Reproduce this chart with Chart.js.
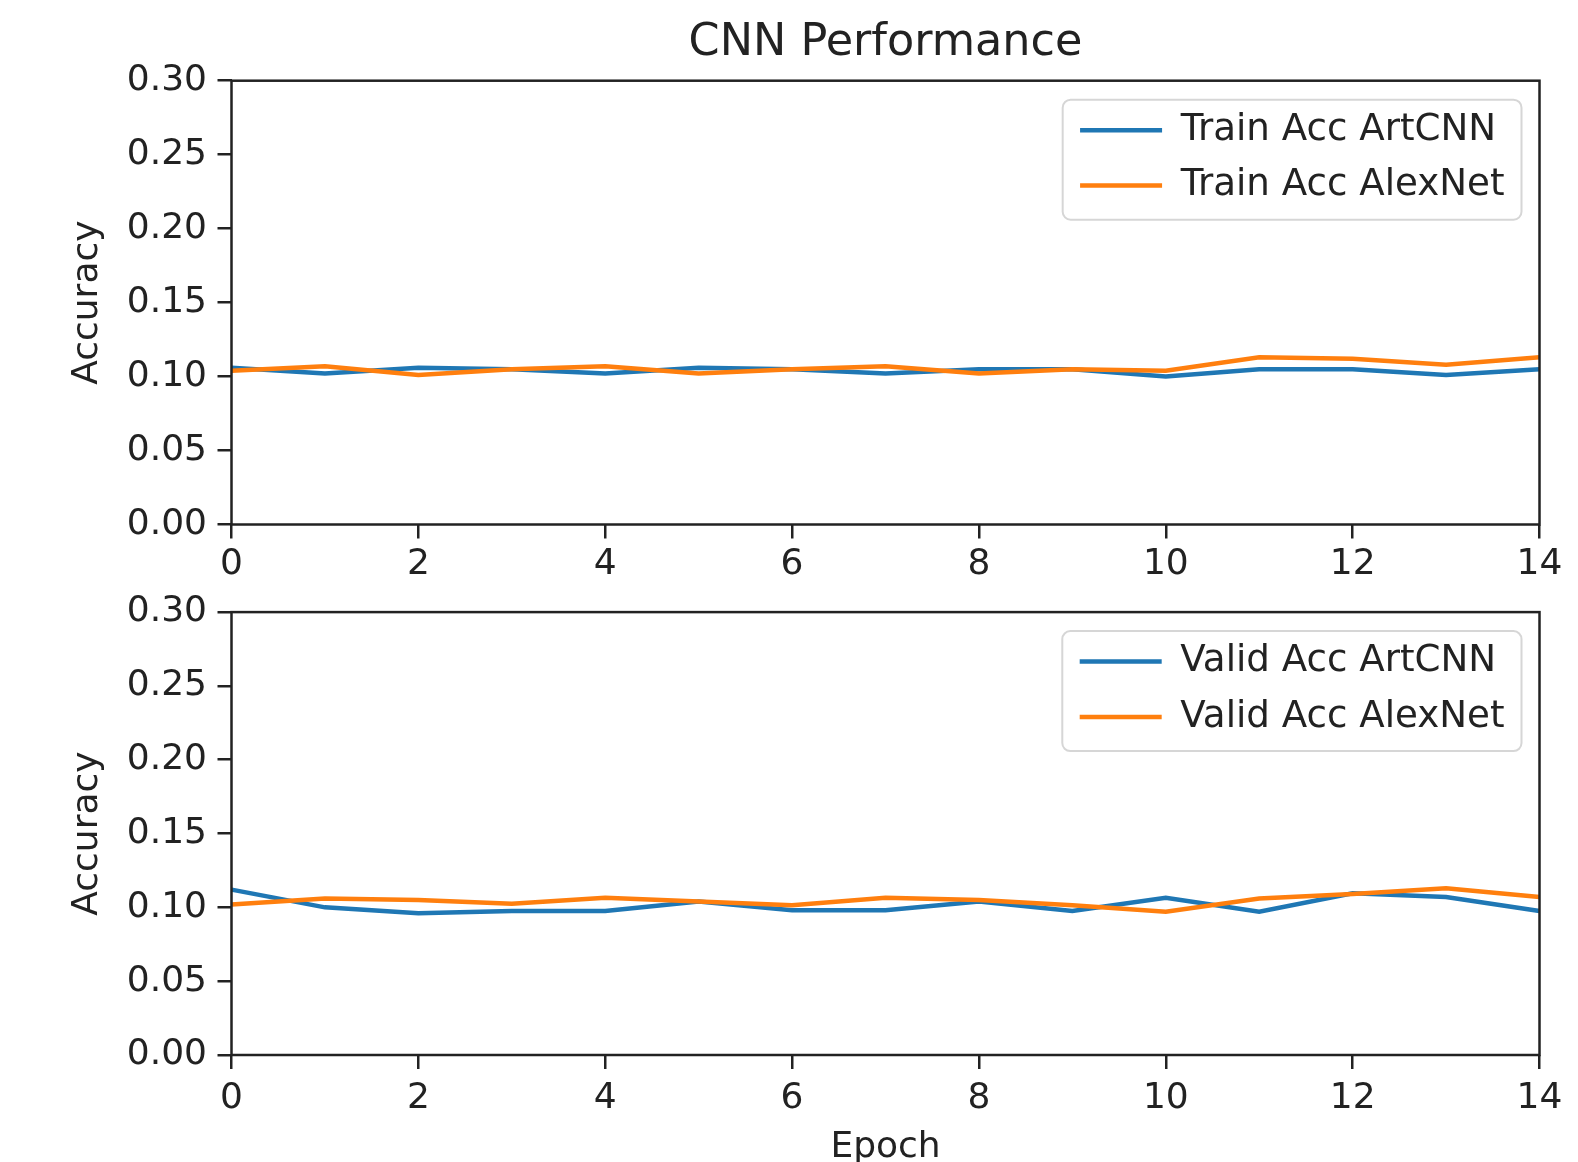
<!DOCTYPE html>
<html>
<head>
<meta charset="utf-8">
<title>CNN Performance</title>
<script src="https://cdn.jsdelivr.net/npm/chart.js@4.4.1/dist/chart.umd.min.js"></script>
<style>
    body { margin: 0; background: #fff; }
    #wrap { position: relative; width: 1578px; height: 1162px; }
    canvas { position: absolute; left: 0; }
    #trainChart { top: 0; }
    #validChart { top: 580px; }
</style>
</head>
<body>
<div id="wrap">
    <canvas id="trainChart" width="1578" height="580"></canvas>
    <canvas id="validChart" width="1578" height="582"></canvas>
</div>
<script>
const epochs = [0, 1, 2, 3, 4, 5, 6, 7, 8, 9, 10, 11, 12, 13, 14];
const xTickValues = [0, 2, 4, 6, 8, 10, 12, 14];
const yTickValues = [0, 0.05, 0.10, 0.15, 0.20, 0.25, 0.30];

const trainArtCNN = [0.106, 0.102, 0.106, 0.105, 0.102, 0.106, 0.105, 0.102, 0.105, 0.105, 0.100, 0.105, 0.105, 0.101, 0.105];
const trainAlexNet = [0.104, 0.107, 0.101, 0.105, 0.107, 0.102, 0.105, 0.107, 0.102, 0.105, 0.104, 0.113, 0.112, 0.108, 0.113];
const validArtCNN = [0.112, 0.100, 0.096, 0.0975, 0.0975, 0.104, 0.098, 0.098, 0.104, 0.0975, 0.1065, 0.097, 0.1095, 0.107, 0.0975];
const validAlexNet = [0.102, 0.106, 0.105, 0.1025, 0.1065, 0.104, 0.1015, 0.1065, 0.105, 0.1015, 0.097, 0.106, 0.109, 0.113, 0.107];

const BLUE = '#1f77b4';
const ORANGE = '#ff7f0e';
const INK = '#222222';

Chart.defaults.font.family = "'DejaVu Sans', sans-serif";
Chart.defaults.color = INK;

// box round the plot + framed legend like matplotlib
const mplFrame = {
    id: 'mplFrame',
    afterLayout(chart) {
        const lg = chart.legend;
        const area = chart.chartArea;
        const lab = lg.options.labels;
        const ctx = chart.ctx;
        ctx.save();
        ctx.font = Chart.helpers.toFont(lab.font).string;
        const maxW = Math.max(...lg.legendItems.map(it => ctx.measureText(it.text).width));
        ctx.restore();
        const half = lab.font.size / 2;
        const boxRight = area.right - 18;
        const boxTop = area.top + 19;
        const textX = boxRight - 17 - maxW;
        lg.left = textX - half - lab.boxWidth - lab.padding;
        lg.right = lg.left + lg.width;
        lg.top = boxTop + 30.5 - half - lab.padding;
        lg.bottom = lg.top + 300;
        chart.$legendBox = { x: textX - 118, y: boxTop, w: boxRight - (textX - 118), h: 120 };
    },
    beforeDraw(chart) {
        const b = chart.$legendBox;
        if (!b) return;
        const ctx = chart.ctx;
        ctx.save();
        ctx.beginPath();
        ctx.roundRect(b.x, b.y, b.w, b.h, 8);
        ctx.fillStyle = 'rgba(255,255,255,0.8)';
        ctx.fill();
        ctx.lineWidth = 2;
        ctx.strokeStyle = '#d6d6d6';
        ctx.stroke();
        ctx.restore();
    },
    afterDraw(chart) {
        const a = chart.chartArea;
        const ctx = chart.ctx;
        ctx.save();
        ctx.lineWidth = 2.5;
        ctx.strokeStyle = INK;
        ctx.strokeRect(a.left, a.top, a.right - a.left, a.bottom - a.top);
        ctx.restore();
    }
};

function makeChart(id, seriesA, seriesB, labelA, labelB, opts) {
    const tickGrid = { drawOnChartArea: false, drawTicks: true, tickLength: 14, lineWidth: 2.5, color: INK };
    return new Chart(document.getElementById(id), {
        type: 'line',
        data: {
            datasets: [
                { label: labelA, data: epochs.map((e, i) => ({ x: e, y: seriesA[i] })), borderColor: BLUE, backgroundColor: BLUE, order: 1 },
                { label: labelB, data: epochs.map((e, i) => ({ x: e, y: seriesB[i] })), borderColor: ORANGE, backgroundColor: ORANGE, order: 0 },
            ],
        },
        options: {
            responsive: false,
            animation: false,
            devicePixelRatio: 1,
            events: [],
            layout: { padding: { left: 0, right: 38.5, top: opts.padTop, bottom: opts.padBottom } },
            elements: {
                line: { borderWidth: 4.5, tension: 0, fill: false },
                point: { radius: 0 },
            },
            scales: {
                x: {
                    type: 'linear',
                    min: 0,
                    max: 14,
                    afterBuildTicks: s => { s.ticks = xTickValues.map(v => ({ value: v })); },
                    afterFit: s => { s.height = opts.xHeight; },
                    ticks: { font: { size: 36 }, padding: opts.xPad, maxRotation: 0, autoSkip: false, callback: v => String(v) },
                    grid: tickGrid,
                    border: { display: false },
                    title: {
                        display: opts.xTitle,
                        text: 'Epoch',
                        font: { size: 36, lineHeight: 0.75 },
                        padding: { top: 0, bottom: 0 },
                    },
                },
                y: {
                    min: 0,
                    max: 0.3,
                    afterBuildTicks: s => { s.ticks = yTickValues.map(v => ({ value: v })); },
                    afterFit: s => { s.width = 231.5; },
                    ticks: { font: { size: 36 }, padding: 10.5, callback: v => v.toFixed(2) },
                    grid: tickGrid,
                    border: { display: false },
                    title: {
                        display: true,
                        text: 'Accuracy',
                        font: { size: 36, lineHeight: 1 },
                        padding: { top: 70, bottom: 0 },
                    },
                },
            },
            plugins: {
                tooltip: { enabled: false },
                title: {
                    display: opts.title,
                    text: 'CNN Performance',
                    fullSize: false,
                    color: INK,
                    font: { size: 44.5, weight: 'normal' },
                    padding: { top: 16.5, bottom: 10.8 },
                },
                legend: {
                    position: 'chartArea',
                    align: 'start',
                    labels: {
                        font: { size: 37.2 },
                        color: INK,
                        boxWidth: 82,
                        boxHeight: 0,
                        padding: 18.2,
                        sort: (a, b) => a.datasetIndex - b.datasetIndex,
                    },
                },
            },
        },
        plugins: [mplFrame],
    });
}

makeChart('trainChart', trainArtCNN, trainAlexNet, 'Train Acc ArtCNN', 'Train Acc AlexNet',
    { title: true, xTitle: false, padTop: 0, padBottom: 0, xHeight: 55.5, xPad: 5 });
makeChart('validChart', validArtCNN, validAlexNet, 'Valid Acc ArtCNN', 'Valid Acc AlexNet',
    { title: false, xTitle: true, padTop: 31, padBottom: 1, xHeight: 106, xPad: 8.5 });
</script>
</body>
</html>
